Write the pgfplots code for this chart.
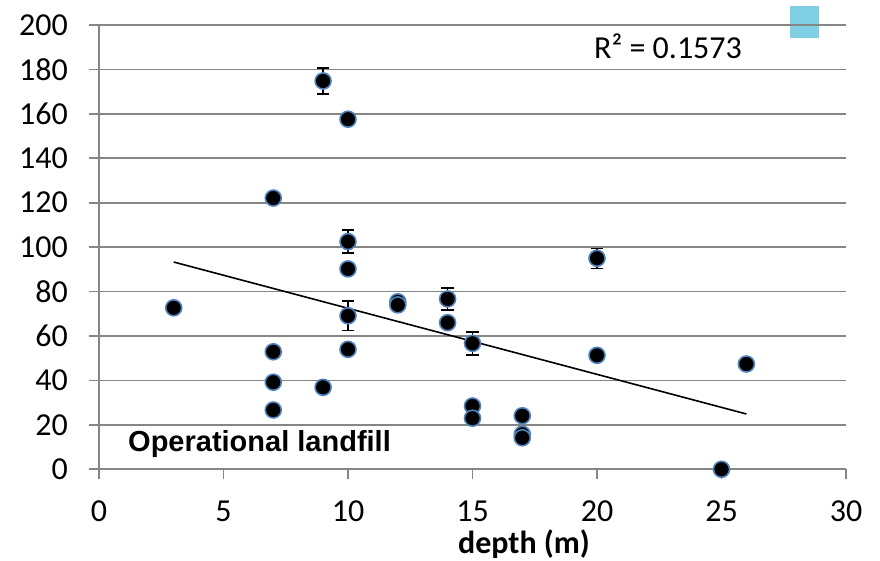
\documentclass[border=0pt]{standalone}
\usepackage{fontspec}
\setmainfont{Carlito}
\newfontfamily\arialfont{Liberation Sans}
\usepackage{pgfplots}
\pgfplotsset{compat=1.18}
\usepackage{pgfplotstable}
\definecolor{gridgray}{HTML}{868686}
\definecolor{mkblue}{HTML}{4F81BD}
\definecolor{sqcyan}{HTML}{80D0E4}

\pgfplotstableread{
x y e
3 72.7 1.5
7 122.1 0
7 52.9 0
7 39.2 0
7 26.7 0
9 174.8 5.8
9 36.9 0
10 157.6 0
10 102.5 5.2
10 90.2 0
10 69.1 6.6
10 54.0 0
12 75.4 1.5
12 74.0 1.5
14 76.7 5.0
14 66.0 0
15 56.7 5.2
15 28.5 0
15 23.0 0
17 24.1 0
17 15.8 0
17 14.2 0
20 95.0 4.5
20 51.3 0
25 0.0 0
26 47.4 0
}\data

\begin{document}
\begin{tikzpicture}
\useasboundingbox (0bp,0bp) rectangle (880bp,561bp);
\fill[sqcyan] (790bp,523bp) rectangle (819bp,555bp);
\begin{axis}[
  at={(99bp,91.7bp)}, anchor=south west,
  scale only axis, width=747bp, height=444.3bp,
  xmin=0, xmax=30, ymin=0, ymax=200,
  axis lines*=left,
  axis line style={gridgray, line width=1.8bp},
  every tick/.style={gridgray, line width=1.8bp},
  major tick length=10bp,
  tick align=outside,
  xtick={0,5,...,30}, ytick={0,20,...,200},
  ymajorgrids,
  major grid style={gridgray, line width=1.8bp},
  /pgf/number format/assume math mode=true,
  ticklabel style={font=\fontsize{32bp}{38bp}\selectfont, inner sep=0pt},
  yticklabel style={xshift=-21bp},
  xticklabel style={yshift=-21bp},
  clip=false,
]
\addplot[black, line width=1.6bp] coordinates {(3,93.3) (26,24.9)};
\addplot[only marks, mark=*, mark size=8bp,
  mark options={fill=black, draw=mkblue, line width=1.6bp},
  error bars/.cd, y dir=both, y explicit,
  error bar style={black, line width=1.5bp},
  error mark options={black, line width=1.5bp, mark size=6.3bp, rotate=90}]
  table[x=x, y=y, y error=e] {\data};
\end{axis}
\node[anchor=base west, inner sep=0pt, font=\fontsize{32bp}{38bp}\selectfont] at (594bp,502bp) {R² = 0.1573};
\node[anchor=base west, inner sep=0pt, font=\arialfont\bfseries\fontsize{29bp}{35bp}\selectfont] at (128bp,109.3bp) {Operational landfill};
\node[inner sep=0pt, font=\bfseries\fontsize{32bp}{38bp}\selectfont] at (524bp,17bp) {depth (m)};
\end{tikzpicture}
\end{document}
